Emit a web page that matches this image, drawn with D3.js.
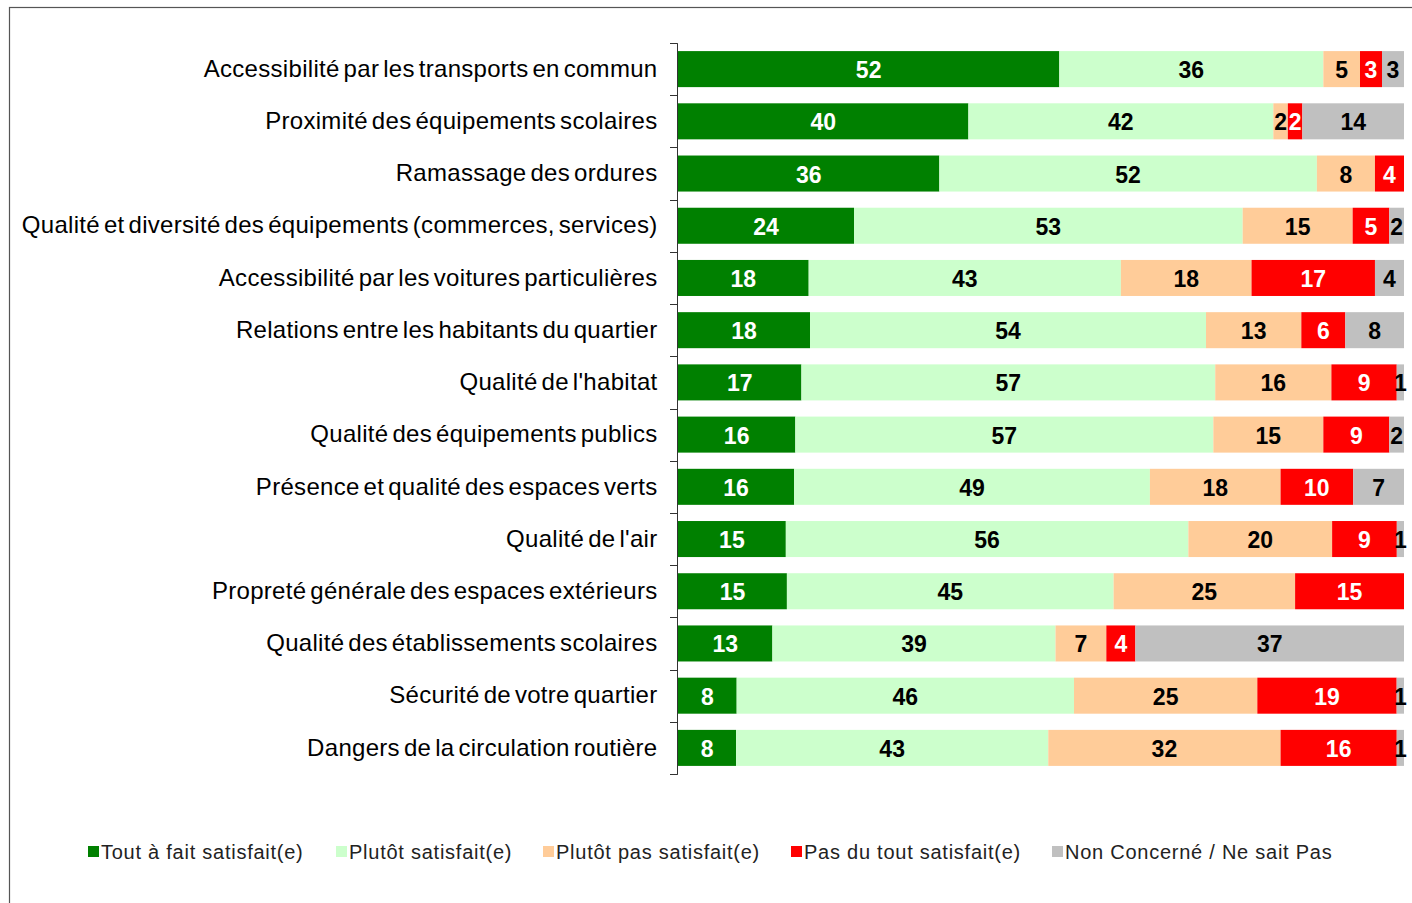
<!DOCTYPE html>
<html>
<head>
<meta charset="utf-8">
<script src="https://cdn.jsdelivr.net/npm/d3@7"></script>
<style>
  body { margin: 0; background: #fff; }
  svg { display: block; }
</style>
</head>
<body>
<script>
// categories, top to bottom
var categories = [
	"Accessibilité par les transports en commun",
	"Proximité des équipements scolaires",
	"Ramassage des ordures",
	"Qualité et diversité des équipements (commerces, services)",
	"Accessibilité par les voitures particulières",
	"Relations entre les habitants du quartier",
	"Qualité de l'habitat",
	"Qualité des équipements publics",
	"Présence et qualité des espaces verts",
	"Qualité de l'air",
	"Propreté générale des espaces extérieurs",
	"Qualité des établissements scolaires",
	"Sécurité de votre quartier",
	"Dangers de la circulation routière"
];

var series = [
	"Tout à fait satisfait(e)",
	"Plutôt satisfait(e)",
	"Plutôt pas satisfait(e)",
	"Pas du tout satisfait(e)",
	"Non Concerné / Ne sait Pas"
];

var toutAFait   = [52, 40, 36, 24, 18, 18, 17, 16, 16, 15, 15, 13, 8, 8];
var plutot      = [36, 42, 52, 53, 43, 54, 57, 57, 49, 56, 45, 39, 46, 43];
var plutotPas   = [5, 2, 8, 15, 18, 13, 16, 15, 18, 20, 25, 7, 25, 32];
var pasDuTout   = [3, 2, 4, 5, 17, 6, 9, 9, 10, 9, 15, 4, 19, 16];
var nonConcerne = [3, 14, 0, 2, 4, 8, 1, 2, 7, 1, 0, 37, 1, 1];

var COLOURS = ["#008000", "#CCFFCC", "#FFCC99", "#FF0000", "#C0C0C0"];
var LABEL_FILL = ["#fff", "#000", "#000", "#fff", "#000"];

var width = 1412, height = 903;
var FONT = "'Liberation Sans', Arial, sans-serif";

var rows = categories.map(function(c, i) {
	return { cat: c, s0: toutAFait[i], s1: plutot[i], s2: plutotPas[i], s3: pasDuTout[i], s4: nonConcerne[i] };
});
var keys = ["s0", "s1", "s2", "s3", "s4"];

var stacked = d3.stack().keys(keys).offset(d3.stackOffsetExpand)(rows);

var svg = d3.select("body").append("svg")
	.attr("width", width)
	.attr("height", height);

// outer frame
svg.append("rect")
	.attr("x", 9.5).attr("y", 7.5)
	.attr("width", 1430).attr("height", 920)
	.attr("fill", "none")
	.attr("stroke", "#555")
	.attr("stroke-width", 1.2);

var x = d3.scaleLinear().domain([0, 1]).range([678, 1404]);
var y = d3.scaleBand().domain(categories).range([43, 774]).paddingInner(0.31).paddingOuter(0.155);

var groups = svg.append("g").selectAll("g")
	.data(stacked)
	.enter().append("g")
	.attr("fill", function(d, i) { return COLOURS[i]; });

groups.selectAll("rect")
	.data(function(d) { return d; })
	.enter().append("rect")
	.attr("x", function(d) { return x(d[0]); })
	.attr("y", function(d) { return y(d.data.cat); })
	.attr("width", function(d) { return Math.max(0, x(d[1]) - x(d[0])); })
	.attr("height", y.bandwidth());

// value labels
stacked.forEach(function(layer, li) {
	svg.append("g").selectAll("text")
		.data(layer.filter(function(d) { return d.data[layer.key] > 0; }))
		.enter().append("text")
		.attr("x", function(d) { return (x(d[0]) + x(d[1])) / 2; })
		.attr("y", function(d) { return y(d.data.cat) + y.bandwidth() / 2 + 1; })
		.attr("text-anchor", "middle")
		.attr("dominant-baseline", "central")
		.attr("font-family", FONT)
		.attr("font-weight", "bold")
		.attr("font-size", 23)
		.attr("fill", LABEL_FILL[li])
		.text(function(d) { return d.data[layer.key]; });
});

// category axis on the left
var axis = d3.axisLeft(y).tickSize(0).tickPadding(20);
var ax = svg.append("g")
	.attr("transform", "translate(677.5,0)")
	.call(axis);
ax.select(".domain").attr("stroke", "#333").attr("d", "M-7,43.5H0V774.5H-7");
ax.selectAll("text")
	.attr("font-family", FONT)
	.attr("font-size", 24)
	.attr("word-spacing", "-3px")
	.attr("letter-spacing", "0.3px")
	.attr("fill", "#000");

// boundary ticks between categories
var bounds = d3.range(categories.length + 1).map(function(i) {
	return 43 + i * (774 - 43) / categories.length;
});
svg.append("g").selectAll("line")
	.data(bounds)
	.enter().append("line")
	.attr("x1", 670).attr("x2", 677.5)
	.attr("y1", function(d) { return Math.round(d) + 0.5; })
	.attr("y2", function(d) { return Math.round(d) + 0.5; })
	.attr("stroke", "#333");

// legend
var legendX = [88, 336, 543, 791, 1052];
var leg = svg.append("g").selectAll("g")
	.data(series)
	.enter().append("g")
	.attr("transform", function(d, i) { return "translate(" + legendX[i] + ",852)"; });
leg.append("rect")
	.attr("x", 0).attr("y", -6)
	.attr("width", 11).attr("height", 11)
	.attr("fill", function(d, i) { return COLOURS[i]; });
leg.append("text")
	.attr("x", 13)
	.attr("y", 0)
	.attr("dominant-baseline", "central")
	.attr("font-family", FONT)
	.attr("font-size", 20)
	.attr("letter-spacing", "0.75px")
	.attr("fill", "#222")
	.text(function(d) { return d; });
</script>
</body>
</html>
